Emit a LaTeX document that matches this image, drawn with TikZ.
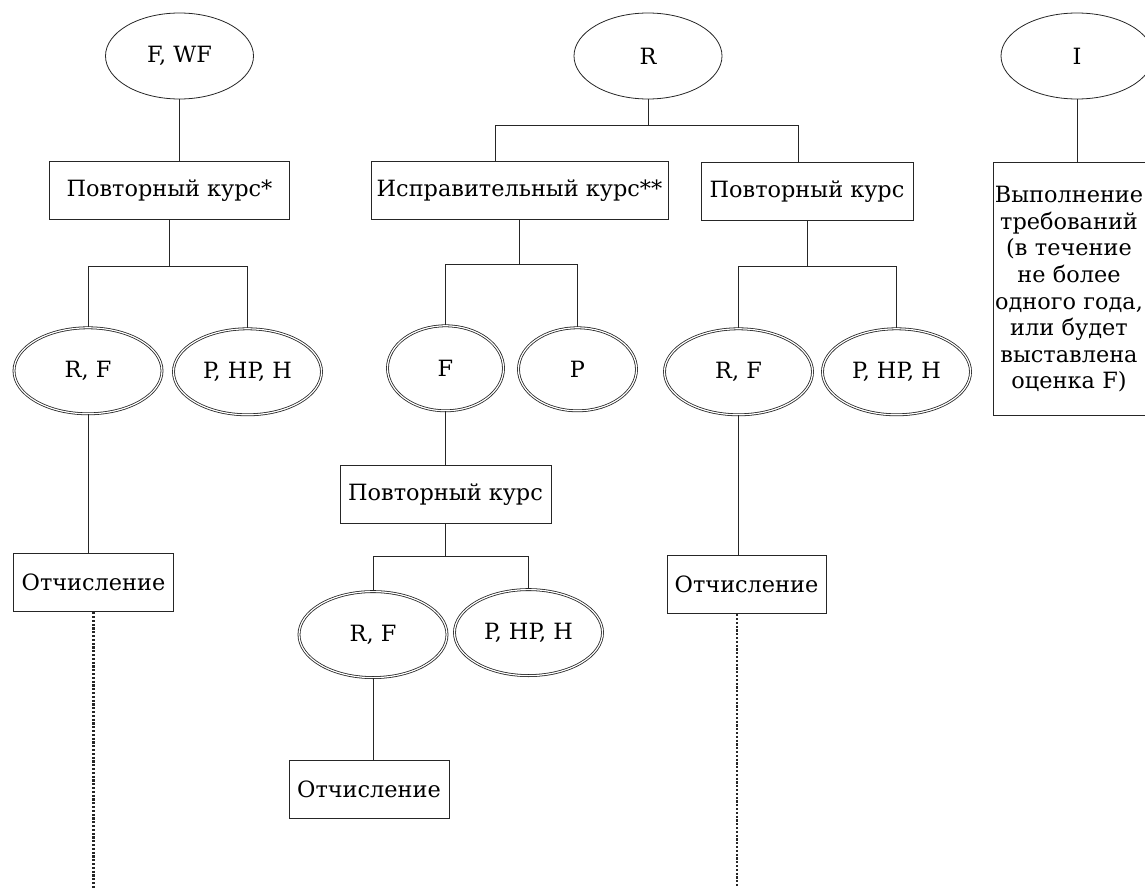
\documentclass[tikz,border=0pt]{standalone}
\usepackage{fontspec}
\setmainfont{DejaVu Serif}
\usepackage{tikz}
\usetikzlibrary{shapes.geometric, positioning}

\begin{document}
\begin{tikzpicture}[
    color=black!85,
    every node/.style={
        font=\fontsize{11.2}{13.3}\selectfont,
        text=black,
        align=center
    },
    grade/.style={
        ellipse,
        draw,
        minimum width=74pt,
        minimum height=43pt,
        inner sep=0pt
    },
    result/.style={
        ellipse,
        draw,
        double,
        double distance=0.6pt,
        line width=0.4pt,
        minimum width=74pt,
        minimum height=43pt,
        inner sep=0pt
    },
    course/.style={
        rectangle,
        draw,
        line width=0.5pt,
        minimum height=29pt,
        inner sep=0pt
    },
    line/.style={
        line width=0.5pt
    },
    trail/.style={
        line width=1.1pt,
        dash pattern=on 1.1pt off 0.8pt
    }
]

\useasboundingbox (0,0) rectangle (572.5pt,-444pt);

\node[grade] (fwf) at (89.75pt,-28pt) {F, WF};

\node[grade] (rgrade) at (324pt,-28pt) {R};

\node[grade, minimum width=76pt] (igrade) at (538.5pt,-28pt) {I};

\node[course, minimum width=120pt, below=31pt of fwf, xshift=-5pt] (povtor)
    {Повторный курс*};

\node[course, minimum width=148.5pt, below=31pt of rgrade, xshift=-64.25pt] (isprav)
    {Исправительный курс**};

\node[course, minimum width=106pt, below=31.5pt of rgrade, xshift=79.5pt] (povtorb)
    {Повторный курс};

\node[course, text width=76pt, minimum height=126.5pt, inner xsep=0pt,
      below=31.5pt of igrade, xshift=-4pt] (trebov)
    {Выполнение\\
    требований\\
    (в течение\\
    не более\\
    одного года,\\
    или будет\\
    выставлена\\
    оценка F)};

\coordinate[below=13pt of rgrade] (razv);
\coordinate[below=23pt of povtor] (razva);
\coordinate[below=22pt of isprav] (razvb);
\coordinate[below=22.5pt of povtorb] (razvc);

\node[result, below=30.5pt of razva, xshift=-40.75pt] (rfa) {R, F};

\node[result, below=31pt of razva, xshift=39pt] (phpa) {P, HP, H};

\node[result, minimum width=58pt, minimum height=42.5pt,
      below=30.5pt of razvb, xshift=-37pt] (fb) {F};

\node[result, minimum width=59pt, minimum height=41.5pt,
      below=31.5pt of razvb, xshift=29pt] (pb) {P};

\node[result, below=31pt of razvc, xshift=-34.25pt] (rfc) {R, F};

\node[result, below=31pt of razvc, xshift=44.75pt] (phpc) {P, HP, H};

\node[course, minimum width=80pt, below=69.5pt of rfa, xshift=2.75pt] (otchisla)
    {Отчисление};

\node[course, minimum width=105.5pt, below=27pt of fb] (povtorv)
    {Повторный курс};

\node[course, minimum width=79.5pt, below=70pt of rfc, xshift=4pt] (otchislc)
    {Отчисление};

\coordinate[below=16pt of povtorv] (razvd);

\node[result, below=17.5pt of razvd, xshift=-36.25pt] (rfd) {R, F};

\node[result, below=16.5pt of razvd, xshift=41.5pt] (phpd) {P, HP, H};

\node[course, minimum width=80pt, below=41pt of rfd, xshift=-2pt] (otchislb)
    {Отчисление};

\coordinate[below=138.5pt of otchisla] (konetsa);
\coordinate[below=139pt of otchislc, xshift=-4.75pt] (konetsc);

\draw[line] (fwf.south) -- (fwf.south |- povtor.north);
\draw[line] (rgrade.south) -- (razv);
\draw[line] ([xshift=-12.25pt]isprav.north) |- (razv) -| ([xshift=-4.5pt]povtorb.north);
\draw[line] (igrade.south) -- (igrade.south |- trebov.north);

\draw[line] (povtor.south) -- (razva);
\draw[line] (rfa.north) |- (razva) -| (phpa.north);

\draw[line] (isprav.south) -- (razvb);
\draw[line] (fb.north) |- (razvb) -| (pb.north);

\draw[line] (povtorb.south) -- (razvc);
\draw[line] (rfc.north) |- (razvc) -| (phpc.north);

\draw[line] (rfa.south) -- (rfa.south |- otchisla.north);
\draw[line] (fb.south) -- (fb.south |- povtorv.north);
\draw[line] (rfc.south) -- (rfc.south |- otchislc.north);

\draw[line] (povtorv.south) -- (razvd);
\draw[line] (rfd.north) |- (razvd) -| (phpd.north);
\draw[line] (rfd.south) -- (rfd.south |- otchislb.north);

\draw[trail] (otchisla.south) -- (konetsa);
\draw[trail] (konetsc |- otchislc.south) -- (konetsc);

\end{tikzpicture}
\end{document}
